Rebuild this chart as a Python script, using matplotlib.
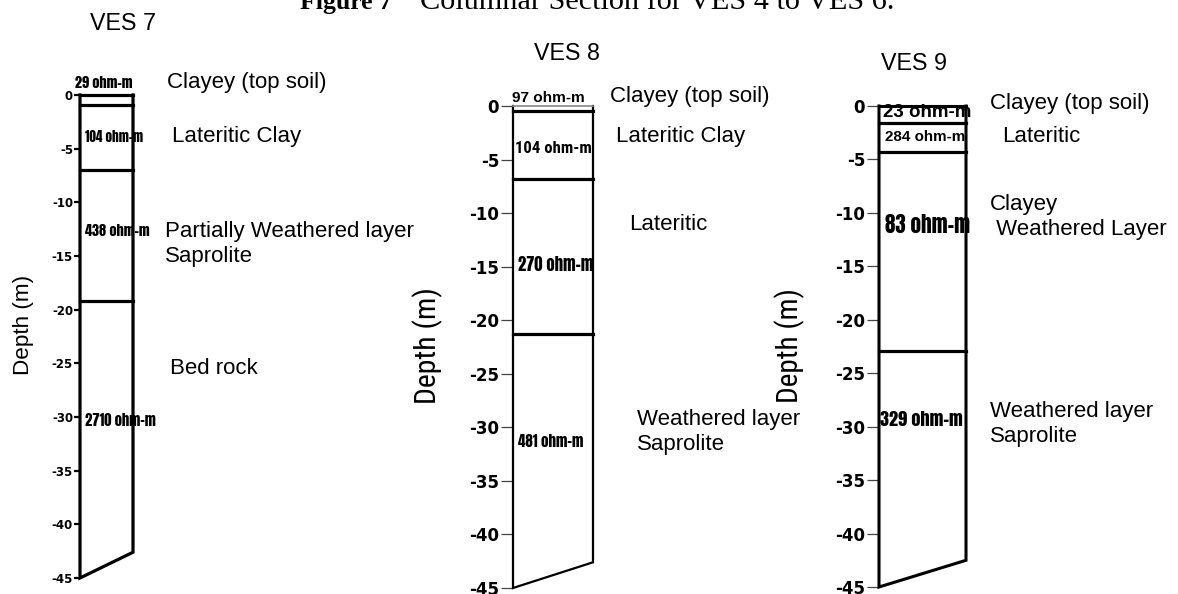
import matplotlib.pyplot as plt

plt.rcParams['axes.unicode_minus'] = False

W, H = 1178, 594

# layer tops (m), resistivities and lithology for each sounding
ves_names = ['VES 7', 'VES 8', 'VES 9']
ves7_tops = [0, -0.9, -7.0, -19.2]
ves8_tops = [0, -0.5, -6.8, -21.3]
ves9_tops = [0, -1.6, -4.3, -22.9]
ves7_res = [29, 104, 438, 2710]
ves8_res = [97, 104, 270, 481]
ves9_res = [23, 284, 83, 329]
bottom_left = -45
bottom_right = [-42.6, -42.6, -42.5]
ves7_lith = ['Clayey (top soil)', 'Lateritic Clay', 'Partially Weathered layer\nSaprolite', 'Bed rock']
ves8_lith = ['Clayey (top soil)', 'Lateritic Clay', 'Lateritic', 'Weathered layer\nSaprolite']
ves9_lith = ['Clayey (top soil)', 'Lateritic', 'Clayey\n Weathered Layer', 'Weathered layer\nSaprolite']
yticks = [0, -5, -10, -15, -20, -25, -30, -35, -40, -45]

sans = 'Liberation Sans'
tall = 'Anton'
narrow = 'Roboto Condensed'

fig = plt.figure(figsize=(W / 100, H / 100), dpi=100)
renderer = fig.canvas.get_renderer()


def fit(t, target, vertical=False):
    # scale the font so the text spans `target` pixels
    bb = t.get_window_extent(renderer)
    size = bb.height if vertical else bb.width
    t.set_fontsize(t.get_fontsize() * target / size)


# clipped caption at the very top
cap1 = fig.text(300 / W, 1 - 9 / H, 'Figure 7', fontsize=20, fontweight='bold',
                family='Liberation Serif', va='baseline')
fit(cap1, 92)
cap2 = fig.text(420 / W, 1 - 9 / H, 'Columnar Section for VES 4 to VES 6.', fontsize=20,
                family='Liberation Serif', va='baseline')
fit(cap2, 475)

# axes boxes in pixels: left, top, width, bottom
boxes = [(80, 95, 53, 578), (513, 106, 80, 588), (879, 106, 87, 587)]
tops_all = [ves7_tops, ves8_tops, ves9_tops]
res_all = [ves7_res, ves8_res, ves9_res]
lith_all = [ves7_lith, ves8_lith, ves9_lith]

# label layout
res_y = [[1.12, -3.9, -12.7, -30.3], [0.75, -4.0, -14.8, -31.3], [-0.65, -2.9, -11.1, -29.3]]
res_x = [[-0.09, 0.09, 0.09, 0.09], [-0.01, 0.03, 0.06, 0.06], [0.05, 0.07, 0.07, 0.01]]
res_w = [[58, 58, 65, 71], [73, 76, 75, 65], [89, 80, 85, 83]]
res_font = [[tall, tall, tall, tall], [sans, narrow, tall, tall], [sans, sans, tall, tall]]
lith_y = [[1.12, -3.91, -13.84, -25.44], [0.93, -2.89, -11.02, -30.44], [0.19, -2.9, -10.43, -29.75]]
lith_x = [[1.64, 1.74, 1.60, 1.70], [1.21, 1.29, 1.45, 1.55], [1.28, 1.41, 1.28, 1.28]]
title_x = [0.81, 0.68, 0.40]
title_py = [24, 53, 63]
depth_px = [23, 428, 790]
depth_py = [325, 346, 346]
depth_len = [100, 117, 115]

lith_fs = None

for i in range(3):
    left, top, wid, bot = boxes[i]
    ax = fig.add_axes([left / W, 1 - bot / H, wid / W, (bot - top) / H])
    ax.set_xlim(0, 1)
    ax.set_ylim(-45, 0)
    for s in ax.spines.values():
        s.set_visible(False)
    ax.set_xticks([])
    ax.set_yticks(yticks)
    ax.set_yticklabels([str(t) for t in yticks])
    if i == 0:
        ax.tick_params(axis='y', length=4, width=1.6, labelsize=8.5, pad=1)
        side_lw = 2.3
    else:
        ax.tick_params(axis='y', length=9, width=0.9, color='#444444', labelsize=12, pad=1)
        side_lw = 1.6 if i == 1 else 2.2
    for lab in ax.get_yticklabels():
        lab.set_fontweight('bold')
        lab.set_family('DejaVu Sans')

    tops = tops_all[i]
    # column outline with sloping base
    ax.plot([0, 0, 1, 1], [tops[0], bottom_left, bottom_right[i], tops[0]],
            color='black', lw=side_lw, clip_on=False, solid_joinstyle='miter')
    ax.plot([0, 1], [tops[0], tops[0]], color='#888888' if i == 1 else 'black',
            lw=1.2 if i == 1 else side_lw, clip_on=False)
    for t in tops[1:]:
        ax.plot([0, 1], [t, t], color='black', lw=2.3, clip_on=False)

    for j, r in enumerate(res_all[i]):
        f = res_font[i][j]
        t = ax.text(res_x[i][j], res_y[i][j], f'{r} ohm-m', fontsize=11,
                    fontweight='normal' if f == tall else 'bold', family=f,
                    ha='left', va='center', clip_on=False)
        fit(t, res_w[i][j])
    for j, name in enumerate(lith_all[i]):
        t = ax.text(lith_x[i][j], lith_y[i][j], name, fontsize=15, family=sans,
                    ha='left', va='center', linespacing=1.25, clip_on=False)
        if lith_fs is None:
            fit(t, 160)
            lith_fs = t.get_fontsize()
        t.set_fontsize(lith_fs)

    tt = fig.text((left + title_x[i] * wid) / W, 1 - title_py[i] / H, ves_names[i], fontsize=16,
                  family=sans, ha='center', va='center')
    fit(tt, 66)

    d = fig.text(depth_px[i] / W, 1 - depth_py[i] / H, 'Depth (m)', fontsize=18,
                 family=narrow if i else sans, rotation=90, ha='center', va='center')
    fit(d, depth_len[i], vertical=True)

fig.savefig('out.png', dpi=100)
